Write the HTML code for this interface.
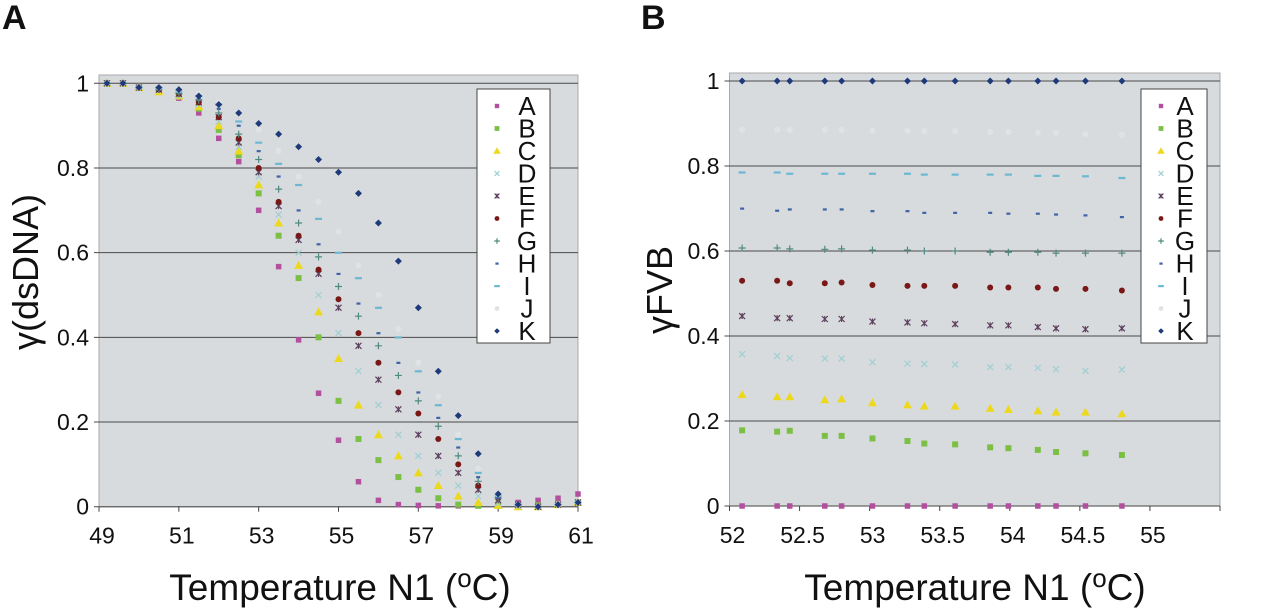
<!DOCTYPE html>
<html><head><meta charset="utf-8"><style>
html,body{margin:0;padding:0;background:#fff;}
svg{display:block;font-family:"Liberation Sans",Arial,sans-serif;}
</style></head><body>
<svg id="fig" width="1280" height="611" viewBox="0 0 1280 611">
<text x="2" y="29" font-size="34" font-weight="bold" fill="#111">A</text>
<text x="641" y="29" font-size="34" font-weight="bold" fill="#111">B</text>
<g id="pa"></g>
<g id="pb"></g>
<text transform="translate(38,272) rotate(-90)" text-anchor="middle" font-size="36" fill="#111">γ(dsDNA)</text>
<text transform="translate(672,290) rotate(-90)" text-anchor="middle" font-size="36" fill="#111">γFVB</text>
<text x="340" y="600" text-anchor="middle" font-size="37" fill="#111">Temperature N1 (<tspan font-size="26" dy="-13">o</tspan><tspan dy="13">C)</tspan></text>
<text x="975" y="600" text-anchor="middle" font-size="37" fill="#111">Temperature N1 (<tspan font-size="26" dy="-13">o</tspan><tspan dy="13">C)</tspan></text>
</svg>
<script>
const seriesNames = ["A","B","C","D","E","F","G","H","I","J","K"];
const tempsA = [49.2,49.6,50,50.5,51,51.5,52,52.5,53,53.5,54,54.5,55,55.5,56,56.5,57,57.5,58,58.5,59,59.5,60,60.5,61];
const valsA_A = [1,1,0.99,0.98,0.965,0.93,0.87,0.815,0.7,0.567,0.394,0.268,0.157,0.059,0.015,0.005,0.003,0.002,0.002,0.003,0.005,0.01,0.015,0.02,0.03];
const valsA_B = [1,1,0.99,0.98,0.97,0.94,0.89,0.83,0.74,0.64,0.54,0.40,0.25,0.16,0.11,0.07,0.04,0.02,0.005,0.002,0.002,0.002,0.003,0.005,0.01];
const valsA_C = [1,1,0.99,0.98,0.97,0.945,0.9,0.84,0.76,0.67,0.57,0.46,0.35,0.24,0.17,0.12,0.08,0.05,0.025,0.01,0.003,0,0,0.005,0.01];
const valsA_D = [1,1,0.99,0.985,0.97,0.95,0.91,0.85,0.78,0.69,0.6,0.5,0.41,0.32,0.24,0.17,0.12,0.08,0.05,0.025,0.008,0.002,0,0.005,0.01];
const valsA_E = [1,1,0.99,0.985,0.975,0.955,0.92,0.86,0.79,0.71,0.63,0.55,0.47,0.38,0.3,0.23,0.17,0.12,0.08,0.04,0.015,0.005,0,0.005,0.01];
const valsA_F = [1,1,0.99,0.985,0.975,0.955,0.92,0.87,0.8,0.72,0.64,0.56,0.49,0.41,0.34,0.27,0.22,0.16,0.1,0.05,0.02,0.005,0,0.005,0.01];
const valsA_G = [1,1,0.99,0.985,0.975,0.96,0.93,0.88,0.82,0.75,0.67,0.59,0.52,0.45,0.38,0.31,0.25,0.19,0.12,0.06,0.02,0.005,0,0.005,0.01];
const valsA_H = [1,1,0.99,0.985,0.98,0.965,0.94,0.9,0.84,0.78,0.7,0.62,0.55,0.48,0.41,0.34,0.27,0.21,0.14,0.07,0.02,0.005,0,0.005,0.01];
const valsA_I = [1,1,0.99,0.99,0.98,0.97,0.95,0.91,0.86,0.81,0.76,0.68,0.6,0.54,0.47,0.4,0.32,0.24,0.16,0.08,0.025,0.005,0,0.005,0.01];
const valsA_J = [1,1,0.99,0.99,0.985,0.975,0.955,0.93,0.89,0.84,0.78,0.72,0.65,0.57,0.5,0.42,0.34,0.26,0.17,0.09,0.03,0.005,0,0.005,0.01];
const valsA_K = [1,1,0.99,0.99,0.985,0.97,0.95,0.93,0.905,0.88,0.85,0.82,0.79,0.74,0.67,0.58,0.47,0.32,0.215,0.125,0.03,0.005,0,0.005,0.01];
const tempsB = [52.09,52.34,52.43,52.68,52.8,53.02,53.27,53.39,53.61,53.86,53.99,54.2,54.33,54.54,54.8];
const valsB_A = [0,0,0,0,0,0,0,0,0,0,0,0,0,0,0];
const valsB_B = [0.178,0.175,0.177,0.165,0.165,0.159,0.153,0.147,0.145,0.138,0.136,0.132,0.127,0.124,0.12];
const valsB_C = [0.262,0.257,0.257,0.25,0.252,0.243,0.238,0.235,0.235,0.23,0.227,0.224,0.221,0.221,0.217];
const valsB_D = [0.357,0.353,0.348,0.347,0.347,0.338,0.335,0.334,0.333,0.327,0.327,0.325,0.322,0.318,0.321];
const valsB_E = [0.447,0.442,0.442,0.44,0.44,0.434,0.432,0.43,0.428,0.425,0.425,0.421,0.418,0.416,0.418];
const valsB_F = [0.53,0.53,0.524,0.524,0.526,0.52,0.518,0.518,0.518,0.514,0.514,0.514,0.511,0.511,0.507];
const valsB_G = [0.607,0.607,0.605,0.604,0.605,0.602,0.602,0.6,0.6,0.597,0.597,0.597,0.595,0.595,0.595];
const valsB_H = [0.70,0.695,0.698,0.698,0.698,0.694,0.694,0.69,0.69,0.69,0.688,0.688,0.686,0.684,0.68];
const valsB_I = [0.785,0.785,0.782,0.782,0.782,0.782,0.782,0.78,0.78,0.78,0.78,0.777,0.777,0.776,0.772];
const valsB_J = [0.885,0.885,0.885,0.885,0.885,0.883,0.883,0.882,0.882,0.88,0.88,0.878,0.878,0.875,0.873];
const valsB_K = [1,1,1,1,1,1,1,1,1,1,1,1,1,1,1];
const ticksA_x = [49,51,53,55,57,59,61];
const ticksB_x = [52,52.5,53,53.5,54,54.5,55,55.5];
const ticksB_xLabels = ["52","52.5","53","53.5","54","54.5","55",""];
const ticksY = [0,0.2,0.4,0.6,0.8,1];
const ticksYLabels = ["0","0.2","0.4","0.6","0.8","1"];

const styles = {
 A:{shape:"square",c:"#b24f9e",s:5.5},B:{shape:"square",c:"#7cbf45",s:6},C:{shape:"tri",c:"#ecd91e",s:7},
 D:{shape:"x",c:"#9fcfd3",s:6},E:{shape:"star",c:"#5e405e",s:6},F:{shape:"circle",c:"#7a1818",s:6},
 G:{shape:"plus",c:"#4f8a80",s:7},H:{shape:"hdash",c:"#3f63a6",s:4},I:{shape:"ldash",c:"#6bb8d4",s:7},
 J:{shape:"circle",c:"#e0e3e4",s:6},K:{shape:"diamond",c:"#1e3a78",s:7}
};
const NS="http://www.w3.org/2000/svg";
function mk(tag,attrs,parent){const e=document.createElementNS(NS,tag);for(const k in attrs)e.setAttribute(k,attrs[k]);parent.appendChild(e);return e;}
function marker(g,name,x,y,scale){
 const st=styles[name];const s=st.s*(scale||1);const c=st.c;let e;
 if(st.shape==="square"){e=mk("rect",{x:x-s/2,y:y-s/2,width:s,height:s,fill:c},g);}
 else if(st.shape==="tri"){e=mk("polygon",{points:`${x},${y-s/2-1} ${x-s/2-1},${y+s/2} ${x+s/2+1},${y+s/2}`,fill:c},g);}
 else if(st.shape==="circle"){e=mk("circle",{cx:x,cy:y,r:s/2,fill:c},g);}
 else if(st.shape==="diamond"){e=mk("polygon",{points:`${x},${y-s/2} ${x+s/2},${y} ${x},${y+s/2} ${x-s/2},${y}`,fill:c},g);}
 else if(st.shape==="x"){e=mk("path",{d:`M${x-s/2} ${y-s/2}L${x+s/2} ${y+s/2}M${x-s/2} ${y+s/2}L${x+s/2} ${y-s/2}`,stroke:c,"stroke-width":1.2,fill:"none"},g);}
 else if(st.shape==="star"){e=mk("path",{d:`M${x-s/2} ${y-s/2}L${x+s/2} ${y+s/2}M${x-s/2} ${y+s/2}L${x+s/2} ${y-s/2}M${x} ${y-s/2}L${x} ${y+s/2}`,stroke:c,"stroke-width":1.2,fill:"none"},g);}
 else if(st.shape==="plus"){e=mk("path",{d:`M${x-s/2} ${y}L${x+s/2} ${y}M${x} ${y-s/2}L${x} ${y+s/2}`,stroke:c,"stroke-width":1.2,fill:"none"},g);}
 else {e=mk("rect",{x:x-s/2,y:y-1,width:s,height:2.2,fill:c},g);}
 return e;
}
function panel(g,cfg){
 const {x0,x1,yTop,y0,y1,xmin,xmax,xticks,xlabels,temps,vals,leg}=cfg;
 const sx=v=>x0+(v-xmin)/(xmax-xmin)*(x1-x0);
 const sy=v=>y0-(v)*(y0-y1);
 const bg=mk("rect",{x:x0,y:yTop,width:x1-x0,height:y0-yTop,fill:"#d8dbdd",stroke:"#aaa","stroke-width":1},g);
 
 
 ticksY.forEach((t,i)=>{
  const gl=mk("line",{x1:x0-5,x2:x1,y1:sy(t),y2:sy(t),stroke:"#4a4a4a","stroke-width":1},g);
  
  
  const tl=mk("text",{x:x0-10,y:sy(t)+8,"text-anchor":"end","font-size":23,fill:"#111"},g);
  tl.textContent=ticksYLabels[i];
  
  
 });
 mk("line",{x1:x0,x2:x1,y1:y0,y2:y0,stroke:"#666","stroke-width":1.2},g);
 xticks.forEach((t,i)=>{
  mk("line",{x1:sx(t),x2:sx(t),y1:y0,y2:y0+5,stroke:"#444","stroke-width":1},g);
  const tl=mk("text",{x:sx(t)+3,y:y0+37,"text-anchor":"middle","font-size":23,fill:"#111"},g);
  tl.textContent=xlabels[i];
  
  
 });
 seriesNames.forEach((n,si)=>{
  const sg=mk("g",{},g);
  
  
  vals[si].forEach((v,i)=>{
   const m=marker(sg,n,sx(temps[i]),sy(v));
   
   
  });
 });
 const lg=mk("g",{},g);
 
 
 mk("rect",{x:leg.x,y:leg.y,width:leg.w,height:leg.h,fill:"#fff",stroke:"#444","stroke-width":1},lg);
 seriesNames.forEach((n,i)=>{
  const yy=leg.y+17+i*22.5;
  const e=mk("g",{},lg);
  
  
  marker(e,n,leg.x+20,yy,0.8);
  const t=mk("text",{x:leg.x+leg.tx,y:yy+9,"text-anchor":"middle","font-size":26,fill:"#111"},e);
  t.textContent=n;
 });
}
const valsA=[valsA_A,valsA_B,valsA_C,valsA_D,valsA_E,valsA_F,valsA_G,valsA_H,valsA_I,valsA_J,valsA_K];
const valsB=[valsB_A,valsB_B,valsB_C,valsB_D,valsB_E,valsB_F,valsB_G,valsB_H,valsB_I,valsB_J,valsB_K];
panel(document.getElementById("pa"),{x0:99,x1:578,yTop:75,y0:506.7,y1:83.3,xmin:49,xmax:61,xticks:ticksA_x,xlabels:ticksA_x.map(String),temps:tempsA,vals:valsA,leg:{x:477,y:89,w:73,h:254,tx:50}});
panel(document.getElementById("pb"),{x0:729.5,x1:1220,yTop:73,y0:506,y1:81,xmin:52,xmax:55.5,xticks:ticksB_x,xlabels:ticksB_xLabels,temps:tempsB,vals:valsB,leg:{x:1141,y:89,w:66,h:254,tx:44}});
</script>
</body></html>
